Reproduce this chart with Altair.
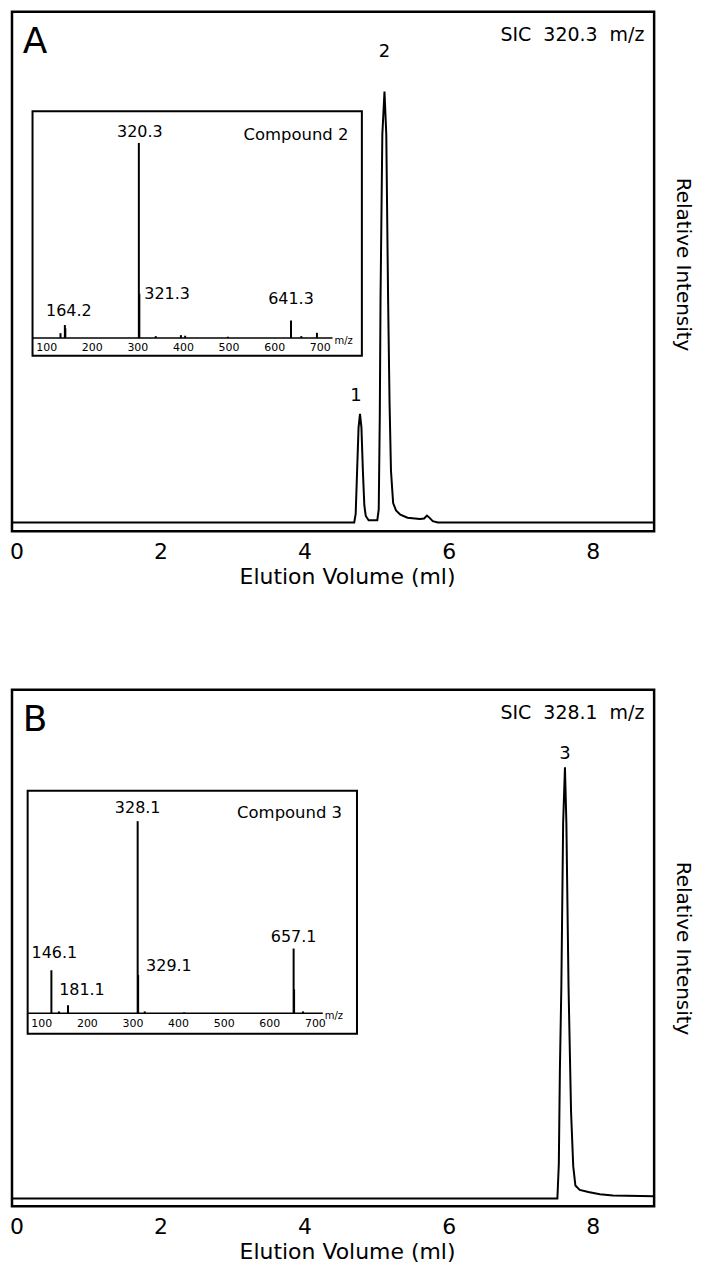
import altair as alt
import pandas as pd

FONT = "DejaVu Sans"

# ---------------- Panel A : SIC 320.3 m/z ----------------
a_ml = [-0.06, 4.69, 4.71, 4.73, 4.75, 4.77, 4.79, 4.81, 4.83, 4.85, 4.89, 5.01, 5.03, 5.045,
        5.055, 5.08, 5.11, 5.135, 5.16, 5.18, 5.20, 5.23, 5.27, 5.33, 5.43, 5.60, 5.66, 5.70,
        5.74, 5.78, 5.85, 8.86]
a_int = [0, 0, 2, 12, 22, 25.2, 22, 12, 4, 1.5, 0.5, 0.5, 3, 25,
         52, 90, 100, 90, 52, 28, 12, 4.5, 2.8, 1.8, 1.1, 0.8, 0.9, 1.6,
         1.0, 0.3, 0, 0]
a_peak_id = ["1", "2"]
a_peak_ml = [4.77, 5.11]
a_peak_int = [25.2, 100]

# inset: Compound 2 mass spectrum
a_ms_mz = [155, 164.2, 165.2, 320.3, 321.3, 356, 409, 418, 508, 641.3, 663, 696]
a_ms_int = [2.5, 6.7, 5.0, 100, 22.7, 1.0, 1.5, 1.2, 0.7, 9.0, 1.0, 2.7]
a_lab_text = ["164.2", "320.3", "321.3", "641.3"]
a_lab_mz = [164.2, 320.3, 321.3, 641.3]
a_lab_int = [6.7, 100, 22.7, 9.0]

# ---------------- Panel B : SIC 328.1 m/z ----------------
b_ml = [-0.06, 7.51, 7.53, 7.545, 7.565, 7.59, 7.615, 7.635, 7.665, 7.70, 7.73, 7.76, 7.82,
        7.94, 8.10, 8.28, 8.86]
b_int = [0, 0, 8, 30, 49, 87, 100, 87, 49, 20, 7.5, 3, 2, 1.5, 1.0, 0.7, 0.5]
b_peak_id = ["3"]
b_peak_ml = [7.615]
b_peak_int = [100]

# inset: Compound 3 mass spectrum
b_ms_mz = [146.1, 162, 181.1, 328.1, 329.1, 343, 426, 657.1, 658.1, 677]
b_ms_int = [22.4, 1.0, 4.2, 100, 20, 1.0, 0.5, 33.7, 12.5, 1.0]
b_lab_text = ["146.1", "181.1", "328.1", "329.1", "657.1"]
b_lab_mz = [146.1, 181.1, 328.1, 329.1, 657.1]
b_lab_int = [22.4, 4.2, 100, 20, 33.7]

x_ticks = [0, 2, 4, 6, 8]
ms_ticks = [100, 200, 300, 400, 500, 600, 700]

# ---------------- layout (pixels, relative to plot area) ----------------
LA = dict(W=644, H=521, xdom=[-0.061, 8.853], ydom=[-2.06, 118.5], title_y=253,
          letter_x=10.8, letter_y=41, sic_x=634.2, sic_y=29.4,
          box=(20.6, 350.9, 99.8, 345.0), axis_px=327.2, mz100_px=22.5, ppu=0.4754,
          pct_px=1.957, axis_end=321.5, tick_dy=9.9, compound=("Compound 2", 284.8, 124),
          peak_off={"1": (13, -4), "2": (35, 0)},
          lab_style={"164.2": ("center", 4, -13.6), "320.3": ("center", 1, -11),
                     "321.3": ("left", 5, 0), "641.3": ("center", 0, -22)})
LB = dict(W=644, H=518, xdom=[-0.061, 8.853], ydom=[-1.82, 117.95], title_y=None,
          letter_x=10.8, letter_y=41.3, sic_x=634.2, sic_y=29.5,
          box=(15.7, 346.0, 101.2, 345.0), axis_px=324.4, mz100_px=17.6, ppu=0.4754,
          pct_px=1.927, axis_end=311.7, tick_dy=11, compound=("Compound 3", 278.4, 123.4),
          peak_off={"3": (8, 0)},
          lab_style={"146.1": ("center", 3, -17), "181.1": ("center", 14, -15),
                     "328.1": ("center", 0, -13), "329.1": ("left", 8, -9),
                     "657.1": ("center", 0, -12)})


def build_panel(letter, sic, ml, inten, pid, pml, pint, ms_mz, ms_int,
                lab_text, lab_mz, lab_int, L):
    W, H = L["W"], L["H"]
    xs = alt.Scale(domain=L["xdom"], nice=False, zero=False)
    ys = alt.Scale(domain=L["ydom"], nice=False, zero=False)
    xaxis = alt.Axis(values=x_ticks, ticks=False, domain=False, grid=False,
                     labelFont=FONT, labelFontSize=22, labelColor="black", labelPadding=10,
                     labelFlush=False, title="Elution Volume (ml)", titleFont=FONT,
                     titleFontSize=22, titleFontWeight="normal", titleColor="black",
                     titlePadding=4, titleX=336)
    ykw = dict(orient="right", labels=False, ticks=False, domain=False, grid=False,
               title="Relative Intensity", titleFont=FONT, titleFontSize=20,
               titleFontWeight="normal", titleColor="black", titlePadding=18)
    if L["title_y"] is not None:
        ykw["titleY"] = L["title_y"]
    yaxis = alt.Axis(**ykw)

    trace = pd.DataFrame({"ml": ml, "inten": inten})
    line = alt.Chart(trace).mark_line(color="black", strokeWidth=2, clip=True).encode(
        x=alt.X("ml:Q", scale=xs, axis=xaxis),
        y=alt.Y("inten:Q", scale=ys, axis=yaxis),
    )
    peaks = pd.DataFrame({"ml": pml, "inten": pint, "pid": pid})
    peak_layers = []
    for p in pid:
        gap, dx = L["peak_off"][p]
        peak_layers.append(
            alt.Chart(peaks).transform_filter(alt.datum.pid == p)
            .mark_text(fontSize=18, align="center", baseline="alphabetic", dy=-gap, dx=dx)
            .encode(x=alt.X("ml:Q", scale=xs, axis=xaxis),
                    y=alt.Y("inten:Q", scale=ys, axis=yaxis),
                    text="pid:N")
        )
    one = pd.DataFrame({"k": [0]})
    letter_t = alt.Chart(one).mark_text(text=letter, fontSize=36, align="left",
                                        baseline="alphabetic").encode(
        x=alt.value(L["letter_x"]), y=alt.value(L["letter_y"]))
    sic_t = alt.Chart(one).mark_text(text=sic, fontSize=19, align="right",
                                     baseline="alphabetic").encode(
        x=alt.value(L["sic_x"]), y=alt.value(L["sic_y"]))
    main = alt.layer(line, *peak_layers, letter_t, sic_t)

    # inset with its own scales
    m100, ppu, ax, pct = L["mz100_px"], L["ppu"], L["axis_px"], L["pct_px"]
    xin = alt.Scale(domain=[100 - m100 / ppu, 100 + (W - m100) / ppu], nice=False, zero=False)
    yin = alt.Scale(domain=[(ax - H) / pct, ax / pct], nice=False, zero=False)
    bx0, bx1, by0, by1 = L["box"]
    box = alt.Chart(one).mark_rect(fill="white", stroke="black", strokeWidth=2).encode(
        x=alt.value(bx0), x2=alt.value(bx1), y=alt.value(by0), y2=alt.value(by1))
    axline = alt.Chart(one).mark_rule(color="black", strokeWidth=1.5).encode(
        x=alt.value(bx0), x2=alt.value(L["axis_end"]), y=alt.value(ax))
    spec = pd.DataFrame({"mz": ms_mz, "ri": ms_int})
    spikes = alt.Chart(spec).mark_rule(color="black", strokeWidth=2).encode(
        x=alt.X("mz:Q", scale=xin, axis=None),
        y=alt.Y("ri:Q", scale=yin, axis=None),
        y2=alt.datum(0),
    )
    labs = pd.DataFrame({"mz": lab_mz, "ri": lab_int, "t": lab_text})
    lab_layers = []
    for t in lab_text:
        align, dx, dy = L["lab_style"][t]
        lab_layers.append(
            alt.Chart(labs).transform_filter(alt.datum.t == t)
            .mark_text(fontSize=16, align=align, baseline="middle", dx=dx, dy=dy)
            .encode(x=alt.X("mz:Q", scale=xin, axis=None),
                    y=alt.Y("ri:Q", scale=yin, axis=None),
                    text="t:N")
        )
    # the printed tick labels of the inset are spaced slightly tighter than its peaks
    ticks_df = pd.DataFrame({"tv": ms_ticks})
    tick_t = alt.Chart(ticks_df).transform_calculate(
        tpos="0.962 * datum.tv + 29.6"
    ).mark_text(fontSize=11, align="center", baseline="middle").encode(
        x=alt.X("tpos:Q", scale=xin, axis=None),
        y=alt.value(ax + L["tick_dy"]),
        text=alt.Text("tv:Q"))
    mz_t = alt.Chart(one).mark_text(text="m/z", fontSize=10, align="left",
                                    baseline="middle").encode(
        x=alt.value(L["axis_end"] + 2), y=alt.value(ax + 3))
    ctext, cx, cy = L["compound"]
    comp_t = alt.Chart(one).mark_text(text=ctext, fontSize=16.5, align="center",
                                      baseline="middle").encode(
        x=alt.value(cx), y=alt.value(cy))
    inset = alt.layer(box, axline, spikes, *lab_layers, tick_t, mz_t, comp_t)

    return alt.layer(main, inset).resolve_scale(x="independent", y="independent").properties(
        width=W, height=H)


pa = build_panel("A", "SIC\u00a0\u00a0320.3\u00a0\u00a0m/z", a_ml, a_int, a_peak_id, a_peak_ml,
                 a_peak_int, a_ms_mz, a_ms_int, a_lab_text, a_lab_mz, a_lab_int, LA)
pb = build_panel("B", "SIC\u00a0\u00a0328.1\u00a0\u00a0m/z", b_ml, b_int, b_peak_id, b_peak_ml,
                 b_peak_int, b_ms_mz, b_ms_int, b_lab_text, b_lab_mz, b_lab_int, LB)

chart = alt.vconcat(pa, pb, spacing=159, bounds="flush").properties(
    padding={"left": 0, "top": 0, "right": 3, "bottom": 2}, background="white"
).configure_view(stroke="black", strokeWidth=2.5, fill="white").configure_text(
    font=FONT, color="black")

chart.save("out.html", embed_options={"renderer": "svg", "actions": False})
